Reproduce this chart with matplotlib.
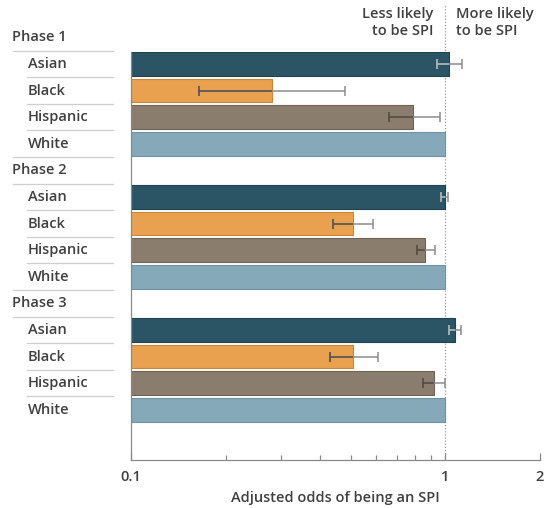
import matplotlib
matplotlib.use("Agg")
import matplotlib.pyplot as plt
import numpy as np

# ── Data (adjusted odds ratios) ──────────────────────────────────────
phases = ["Phase 1", "Phase 2", "Phase 3"]
groups = ["Asian", "Black", "Hispanic", "White"]
odds = [
    [1.03, 0.28, 0.79, 1.0],
    [1.00, 0.51, 0.86, 1.0],
    [1.07, 0.51, 0.92, 1.0],
]
ci_low = [
    [0.94, 0.165, 0.66, None],
    [0.97, 0.44, 0.81, None],
    [1.03, 0.43, 0.85, None],
]
ci_high = [
    [1.13, 0.48, 0.96, None],
    [1.02, 0.59, 0.93, None],
    [1.12, 0.61, 1.00, None],
]

COLORS = {"Asian": "#2b5564", "Black": "#e9a04f",
          "Hispanic": "#8b7d6e", "White": "#86a9ba"}
EDGE = {"Asian": "#1f4350", "Black": "#c98636",
        "Hispanic": "#6f6355", "White": "#6f93a5"}
# colour of the error bar where it runs over the bar itself
ERR_IN = {"Asian": "#a9b9bf", "Black": "#5a5048",
          "Hispanic": "#4d453d", "White": "#555555"}
ERR_OUT = "#8c8c8c"
TXT = "#404040"
SEP = "#cfcfcf"

plt.rcParams.update({"font.family": ["Open Sans", "DejaVu Sans"],
                     "font.weight": "semibold",
                     "axes.labelweight": "semibold"})

W, H = 547, 508
fig = plt.figure(figsize=(W / 100, H / 100), dpi=100)
ax_left, ax_right, ax_top, ax_bot = 131, 540, 52, 460
ax_w = ax_right - ax_left
ax = fig.add_axes([ax_left / W, 1 - ax_bot / H, ax_w / W, (ax_bot - ax_top) / H])


def fx(px):
    """figure pixel x -> axes fraction"""
    return (px - ax_left) / ax_w


step = 26.6
first = 64
FS = 10.5
ax.set_xscale("log")
ax.set_xlim(0.1, 2)
ax.set_ylim((ax_bot - first) / step, (ax_top - first) / step)
ytf = ax.get_yaxis_transform()

row = 0
for p, phase in enumerate(phases):
    phase_y = row - 1
    ax.text(fx(12), phase_y, phase, transform=ytf,
            ha="left", va="center", fontsize=FS, color=TXT, clip_on=False)
    ax.plot([fx(13), fx(113)], [phase_y + 0.5] * 2, transform=ytf,
            color=SEP, lw=0.9, clip_on=False)
    for g, grp in enumerate(groups):
        y = row + g
        bars = ax.barh(y, odds[p][g] - 0.1, left=0.1, height=0.88,
                       color=COLORS[grp], edgecolor=EDGE[grp], linewidth=0.8,
                       zorder=2)
        if ci_low[p][g] is not None:
            lo = odds[p][g] - ci_low[p][g]
            hi = ci_high[p][g] - odds[p][g]
            ax.errorbar(odds[p][g], y, xerr=[[lo], [hi]], fmt="none",
                        ecolor=ERR_OUT, elinewidth=1.1, capsize=3.5,
                        capthick=1.1, zorder=3)
            inner = ax.errorbar(odds[p][g], y, xerr=[[lo], [hi]], fmt="none",
                                ecolor=ERR_IN[grp], elinewidth=1.1, capsize=3.5,
                                capthick=1.1, zorder=4)
            for art in inner.get_children():
                art.set_clip_path(bars.patches[0])
        ax.text(fx(28), y, grp, transform=ytf,
                ha="left", va="center", fontsize=FS, color=TXT, clip_on=False)
        last = (p == len(phases) - 1 and g == len(groups) - 1)
        if not last:
            x0 = fx(13) if g == len(groups) - 1 else fx(27)
            ax.plot([x0, fx(113)], [y + 0.5] * 2, transform=ytf,
                    color=SEP, lw=0.9, clip_on=False)
    row += len(groups) + 1

# reference line at 1
ax.plot([1, 1], [(ax_bot - first) / step, (5 - first) / step],
        color="#9a9a9a", lw=0.9, ls=(0, (1, 1.5)), clip_on=False, zorder=1)

ax.text(0.916, (7 - first) / step, "Less likely\nto be SPI", ha="right", va="top",
        fontsize=FS, color=TXT, linespacing=1.25, clip_on=False)
ax.text(1.084, (7 - first) / step, "More likely\nto be SPI", ha="left", va="top",
        fontsize=FS, color=TXT, linespacing=1.25, clip_on=False)

# axes styling
for s in ("top", "right"):
    ax.spines[s].set_visible(False)
for s in ("left", "bottom"):
    ax.spines[s].set_color("#8a8a8a")
    ax.spines[s].set_linewidth(0.9)
ax.set_yticks([])
ax.set_xticks([0.1, 1, 2])
ax.set_xticklabels(["0.1", "1", "2"])
ax.xaxis.set_minor_locator(matplotlib.ticker.FixedLocator(
    [0.2, 0.3, 0.4, 0.5, 0.6, 0.7, 0.8, 0.9]))
ax.xaxis.set_minor_formatter(matplotlib.ticker.NullFormatter())
ax.tick_params(axis="x", which="major", direction="in", length=5, width=0.9,
               color="#8a8a8a", labelsize=FS, labelcolor=TXT, pad=7)
ax.tick_params(axis="x", which="minor", direction="in", length=3.5, width=0.9,
               color="#8a8a8a")
ax.set_xlabel("Adjusted odds of being an SPI", fontsize=FS, color=TXT, labelpad=5)

fig.savefig("out.png", dpi=100)
